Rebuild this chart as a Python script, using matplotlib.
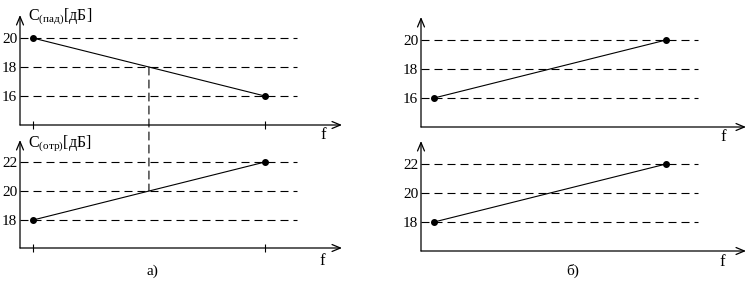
import matplotlib
matplotlib.use("Agg")
import matplotlib.pyplot as plt
from matplotlib.patches import ConnectionPatch

plt.rcParams['font.family'] = ['Liberation Serif', 'DejaVu Serif']
plt.rcParams['mathtext.fontset'] = 'custom'
plt.rcParams['mathtext.rm'] = 'Liberation Serif'

# ---------------------------------------------------------------------------
f_pts = [1, 5]            # two frequencies (end points)
f_mid = 3                 # frequency of the dashed cross-section in a)
c_pad_a = [20, 16]        # C(пад), dB, panel a)
c_otr_a = [18, 22]        # C(отр), dB, panel a)
c_pad_b = [16, 20]        # panel b) top
c_otr_b = [18, 22]        # panel b) bottom
ticks_pad = [16, 18, 20]
ticks_otr = [18, 20, 22]
mid_pad, mid_otr = 18, 20
# ---------------------------------------------------------------------------
W, H = 750, 281
fig = plt.figure(figsize=(W / 100, H / 100), dpi=100)


def box(x0, y_top, x1, y_axis):
    return [x0 / W, (H - y_axis) / H, (x1 - x0) / W, (y_axis - y_top) / H]


def px(x, y):
    return x / W, 1 - y / H


def make_axes(rect, ylim, xlim, ticks, xticks):
    ax = fig.add_axes(rect)
    ax.set_xlim(*xlim)
    ax.set_ylim(*ylim)
    for s in ax.spines.values():
        s.set_visible(False)
    ax.patch.set_alpha(0)
    ax.set_yticks(ticks)
    ax.set_yticklabels([str(t) for t in ticks], fontsize=11)
    ax.tick_params(axis='y', length=0, pad=2)
    if xticks:
        ax.set_xticks(f_pts)
        ax.set_xticklabels([])
        ax.tick_params(axis='x', direction='inout', length=6, width=0.8)
    else:
        ax.set_xticks([])
    # axes with arrows
    arrow = dict(arrowstyle='->,head_length=0.6,head_width=0.25',
                 lw=0.9, color='black', shrinkA=0, shrinkB=0)
    ax.annotate('', xy=(1, 0), xytext=(0, 0), xycoords='axes fraction',
                arrowprops=arrow)
    ax.annotate('', xy=(0, 1), xytext=(0, 0), xycoords='axes fraction',
                arrowprops=arrow)
    for t in ticks:
        ax.plot([xlim[0], 5.55], [t, t], color='black', lw=0.8,
                dashes=(7.2, 4.5))
    return ax


def draw(ax, y):
    ax.plot(f_pts, y, color='black', lw=0.8, marker='o', ms=4)


ax1 = make_axes(box(20, 15, 342, 125), (14.0, 21.59), (0.776, 6.33), ticks_pad, True)
ax2 = make_axes(box(20, 140, 342, 248), (16.07, 23.52), (0.776, 6.33), ticks_otr, True)
ax3 = make_axes(box(421, 17, 746, 127), (14.0, 21.59), (0.776, 6.38), ticks_pad, False)
ax4 = make_axes(box(421, 141, 746, 251), (16.0, 23.59), (0.776, 6.38), ticks_otr, False)

draw(ax1, c_pad_a)
draw(ax2, c_otr_a)
draw(ax3, c_pad_b)
draw(ax4, c_otr_b)

con = ConnectionPatch(xyA=(f_mid, mid_pad), coordsA=ax1.transData,
                      xyB=(f_mid, mid_otr), coordsB=ax2.transData,
                      color='black', lw=0.8, linestyle=(0, (7.2, 4.5)))
fig.add_artist(con)

fig.text(*px(28, 20), r'$\mathrm{C}_{\mathrm{(пад)}}$[дБ]', fontsize=11.5, va='baseline')
fig.text(*px(28, 147), r'$\mathrm{C}_{\mathrm{(отр)}}$[дБ]', fontsize=11.5, va='baseline')

for x, y in [(323, 135), (322, 261), (723, 137), (722, 262)]:
    fig.text(*px(x, y), 'f', fontsize=12, ha='center', va='center')
fig.text(*px(152, 271), 'а)', fontsize=11, ha='center', va='center')
fig.text(*px(573, 271), 'б)', fontsize=11, ha='center', va='center')

fig.savefig('out.png', dpi=100)
